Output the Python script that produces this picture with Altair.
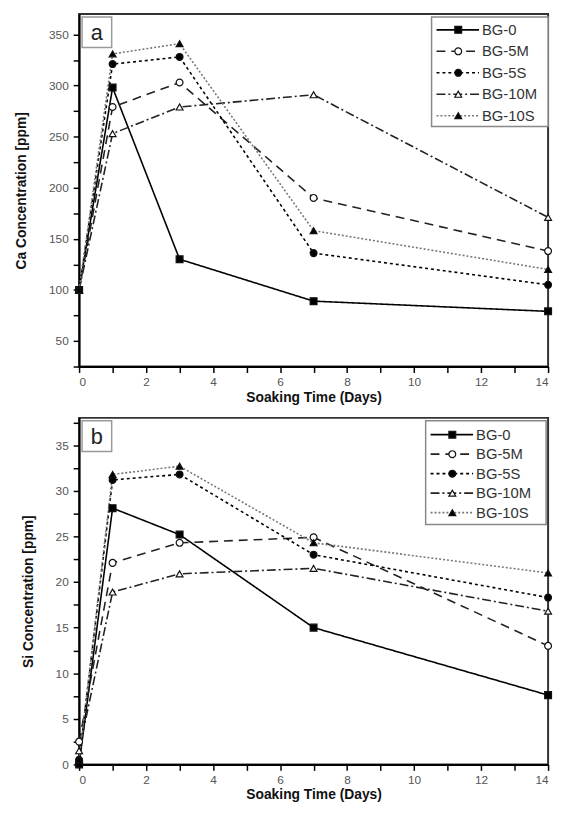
import altair as alt
import pandas as pd

series = ["BG-0", "BG-5M", "BG-5S", "BG-10M", "BG-10S"]
days = [0, 1, 3, 7, 14]

ca_bg0 = [100, 298, 130, 89, 79]
ca_bg5m = [100, 279, 303, 190, 138]
ca_bg5s = [100, 321, 328, 136, 105]
ca_bg10m = [100, 253, 279, 291, 171]
ca_bg10s = [100, 331, 341, 158, 120]

si_bg0 = [0.0, 28.1, 25.2, 15.0, 7.6]
si_bg5m = [2.5, 22.1, 24.3, 24.9, 13.0]
si_bg5s = [0.5, 31.2, 31.8, 23.0, 18.3]
si_bg10m = [1.5, 18.9, 20.9, 21.5, 16.8]
si_bg10s = [0.5, 31.8, 32.7, 24.3, 21.0]

ca_vals = [ca_bg0, ca_bg5m, ca_bg5s, ca_bg10m, ca_bg10s]
si_vals = [si_bg0, si_bg5m, si_bg5s, si_bg10m, si_bg10s]

rows = []
for s, cv, sv in zip(series, ca_vals, si_vals):
    for d, c, v in zip(days, cv, sv):
        rows.append({"series": s, "day": d, "ca": c, "si": v})
df = pd.DataFrame(rows)
leg_df = pd.DataFrame({"series": series, "idx": list(range(len(series)))})
dummy = pd.DataFrame({"k": [0]})

FONT = "Liberation Sans"
dash_scale = alt.Scale(domain=series, range=[[1, 0], [9, 6], [3, 3], [9, 3, 2, 3], [2, 2]])
color_scale = alt.Scale(domain=series, range=["#000000", "#222222", "#000000", "#222222", "#777777"])
width_scale = alt.Scale(domain=series, range=[1.6, 1.6, 1.6, 1.3, 1.0])
shape_scale = alt.Scale(domain=series, range=["square", "circle", "circle", "triangle-up", "triangle-up"])
fill_scale = alt.Scale(domain=series, range=["#000000", "#ffffff", "#000000", "#ffffff", "#000000"])

W = 475


def panel(field, ytitle, ydomain, yticks, ylabel_step, letter, leg, height):
    base = alt.Chart(df)
    x = alt.X("day:Q", title="Soaking Time (Days)",
              scale=alt.Scale(domain=[0, 14], nice=False, zero=False),
              axis=alt.Axis(values=list(range(0, 15)), grid=False,
                            labelExpr="datum.value % 2 == 0 ? datum.label : ''",
                            labelFlush=True, labelBound=False))
    y = alt.Y(f"{field}:Q", title=ytitle,
              scale=alt.Scale(domain=ydomain, nice=False, zero=False),
              axis=alt.Axis(values=yticks, grid=False,
                            labelExpr=f"datum.value % {ylabel_step} == 0 ? datum.label : ''"))
    lines = base.mark_line(clip=True).encode(
        x=x, y=y,
        detail="series:N",
        strokeDash=alt.StrokeDash("series:N", scale=dash_scale, legend=None),
        color=alt.Color("series:N", scale=color_scale, legend=None),
        strokeWidth=alt.StrokeWidth("series:N", scale=width_scale, legend=None),
    )
    pts = base.mark_point(size=48, strokeWidth=1.2, opacity=1).encode(
        x=x, y=y,
        shape=alt.Shape("series:N", scale=shape_scale, legend=None),
        fill=alt.Fill("series:N", scale=fill_scale, legend=None),
        stroke=alt.value("#111111"),
    )
    # legend
    lx0, lx1, ly0, ly1, rows_y = leg
    lbox = alt.Chart(dummy).mark_rect(fill="white", stroke="#888888", strokeWidth=1.5).encode(
        x=alt.value(lx0), x2=alt.value(lx1), y=alt.value(ly0), y2=alt.value(ly1))
    ly = alt.Y("idx:Q", scale=alt.Scale(domain=[0, 4], range=rows_y), axis=None)
    lrule = alt.Chart(leg_df).mark_rule().encode(
        x=alt.value(lx0 + 5), x2=alt.value(lx0 + 48), y=ly,
        strokeDash=alt.StrokeDash("series:N", scale=dash_scale, legend=None),
        color=alt.Color("series:N", scale=color_scale, legend=None),
        strokeWidth=alt.StrokeWidth("series:N", scale=width_scale, legend=None),
    )
    lpt = alt.Chart(leg_df).mark_point(size=48, strokeWidth=1.2, opacity=1).encode(
        x=alt.value(lx0 + 27), y=ly,
        shape=alt.Shape("series:N", scale=shape_scale, legend=None),
        fill=alt.Fill("series:N", scale=fill_scale, legend=None),
        stroke=alt.value("#111111"),
    )
    ltxt = alt.Chart(leg_df).mark_text(align="left", baseline="middle", font=FONT,
                                       fontSize=15, color="#333333").encode(
        x=alt.value(lx0 + 51), y=ly, text="series:N")
    lab_box = alt.Chart(dummy).mark_rect(fill="white", stroke="#999999", strokeWidth=1.5).encode(
        x=alt.value(3), x2=alt.value(33), y=alt.value(3), y2=alt.value(34))
    lab_txt = alt.Chart(dummy).mark_text(font=FONT, fontSize=22, color="#222222",
                                         baseline="middle", align="center").encode(
        x=alt.value(18), y=alt.value(19), text=alt.value(letter))
    legend_layer = alt.layer(lbox, lrule, lpt, ltxt, lab_box, lab_txt)
    data_layer = alt.layer(lines, pts)
    return alt.layer(data_layer, legend_layer).resolve_scale(y="independent").properties(
        width=W, height=height)


top = panel("ca", "Ca Concentration [ppm]", [25, 370], list(range(25, 375, 25)), 50, "a",
            (357, 475, 3, 114, [16, 103]), 357)
bottom = panel("si", "Si Concentration [ppm]", [0, 38], [i * 2.5 for i in range(0, 16)], 5, "b",
               (351, 473, 3, 108, [17, 96]), 351)

chart = alt.vconcat(top, bottom, spacing=12).properties(
    padding={"left": 5, "top": 0, "right": 0, "bottom": 0}
).configure_view(
    stroke="#333333", strokeWidth=2
).configure_axis(
    domainColor="#000000", domainWidth=2, tickColor="#000000", tickWidth=1.5, tickSize=6,
    labelFont=FONT, labelFontSize=12, labelColor="#555555", labelPadding=5,
    titleFont=FONT, titleFontSize=14, titleFontWeight="bold", titleColor="#111111",
).configure_axisY(titlePadding=20).configure_axisX(titlePadding=3, labelPadding=4)

chart.save("out.html", embed_options={"renderer": "svg", "actions": False})
